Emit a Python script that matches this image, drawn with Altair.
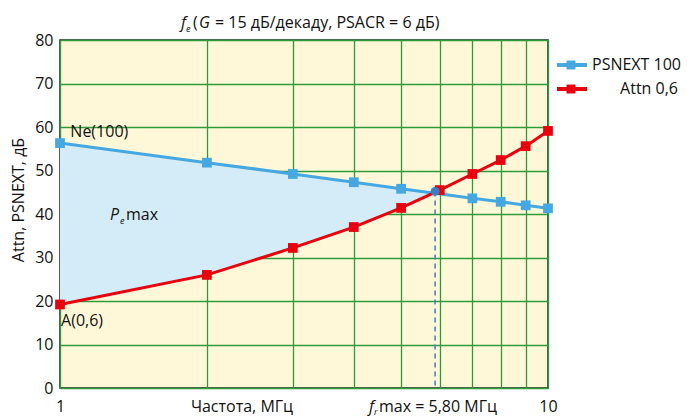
import altair as alt
import pandas as pd

FONT = "Open Sans"

# PSNEXT 100 series
psnext_f = [1, 2, 3, 4, 5, 7, 8, 9, 10]
psnext_v = [56.3, 51.8, 49.2, 47.3, 45.8, 43.6, 42.8, 42.0, 41.3]
# Attn 0,6 series
attn_f = [1, 2, 3, 4, 5, 6, 7, 8, 9, 10]
attn_v = [19.2, 26.0, 32.2, 37.0, 41.4, 45.5, 49.2, 52.4, 55.6, 59.1]
# shaded region (Pe max) between the curves up to the crossing
area_f = [1, 2, 3, 4, 5, 5.87]
area_hi = [56.3, 51.8, 49.2, 47.3, 45.8, 45.2]
area_lo = [19.2, 26.0, 32.2, 37.0, 41.4, 45.2]
# crossing point
cross_f = [5.87]
cross_v = [45.2]
x_ticks = [1, 2, 3, 4, 5, 6, 7, 8, 9, 10]
y_ticks = [0, 10, 20, 30, 40, 50, 60, 70, 80]

BLUE = "#45A8E0"
RED = "#E8000E"
GREEN = "#2E9B3A"
FILL = "#D4ECF8"
BG = "#FFF8D8"
DOT = "#3F7CC4"

ps = pd.DataFrame({"f": psnext_f, "v": psnext_v})
at = pd.DataFrame({"f": attn_f, "v": attn_v})
ar = pd.DataFrame({"f": area_f, "hi": area_hi, "lo": area_lo})
cr = pd.DataFrame({"f": cross_f, "v": cross_v, "z": [0]})

xs = alt.Scale(type="log", domain=[1, 10], nice=False)
ys = alt.Scale(domain=[0, 80], nice=False)

xax = alt.Axis(values=x_ticks, labelExpr="datum.value == 1 || datum.value == 10 ? datum.label : ''",
               grid=True, gridColor=GREEN, gridWidth=1.3, gridOpacity=1, ticks=False,
               domain=False, labelFont=FONT, labelFontSize=16, labelColor="#111",
               labelPadding=10, title=None, labelFlush=False)
yax = alt.Axis(values=y_ticks, grid=True, gridColor=GREEN, gridWidth=1.3, gridOpacity=1,
               ticks=False, domain=False, labelFont=FONT, labelFontSize=16, labelColor="#111",
               labelPadding=7, title=None)

X = alt.X("f:Q", scale=xs, axis=xax)
Y = alt.Y("v:Q", scale=ys, axis=yax)

area = alt.Chart(ar).mark_area(color=FILL, opacity=1).encode(
    x=alt.X("f:Q", scale=xs), y=alt.Y("hi:Q", scale=ys), y2="lo:Q")

base_grid = alt.Chart(ps).mark_point(opacity=0).encode(x=X, y=Y)

drop = alt.Chart(cr).mark_rule(color=DOT, strokeDash=[5, 4], strokeWidth=1.5).encode(
    x=alt.X("f:Q", scale=xs), y=alt.Y("v:Q", scale=ys), y2="z:Q")

ps_line = alt.Chart(ps).mark_line(color=BLUE, strokeWidth=3).encode(
    x=alt.X("f:Q", scale=xs), y=alt.Y("v:Q", scale=ys))
ps_pts = alt.Chart(ps).mark_square(color=BLUE, size=95, opacity=1).encode(
    x=alt.X("f:Q", scale=xs), y=alt.Y("v:Q", scale=ys))
at_line = alt.Chart(at).mark_line(color=RED, strokeWidth=3).encode(
    x=alt.X("f:Q", scale=xs), y=alt.Y("v:Q", scale=ys))
at_pts = alt.Chart(at).mark_square(color=RED, size=95, opacity=1).encode(
    x=alt.X("f:Q", scale=xs), y=alt.Y("v:Q", scale=ys))
dot = alt.Chart(cr).mark_circle(color=DOT, size=80, opacity=1).encode(
    x=alt.X("f:Q", scale=xs), y=alt.Y("v:Q", scale=ys))


def txt(s, x, y, size=16, style="normal", align="left", baseline="alphabetic", angle=0):
    kw = dict(text=s, font=FONT, fontSize=size, fontStyle=style, align=align,
              baseline=baseline, color="#111")
    if angle:
        kw["angle"] = angle
    return alt.Chart(pd.DataFrame({"a": [0]})).mark_text(**kw).encode(
        x=alt.value(x), y=alt.value(y))


def dtxt(s, f, v, size=16, style="normal", align="left", baseline="alphabetic"):
    return alt.Chart(pd.DataFrame({"f": [f], "v": [v]})).mark_text(
        text=s, font=FONT, fontSize=size, fontStyle=style, align=align,
        baseline=baseline, color="#111").encode(
        x=alt.X("f:Q", scale=xs), y=alt.Y("v:Q", scale=ys))


texts = [
    # title
    txt("f", 121, -12, style="italic"),
    txt("e", 126, -8, size=9, style="italic"),
    txt("(", 133, -12),
    txt("G", 139, -12, style="italic"),
    txt("= 15 дБ/декаду, PSACR = 6 дБ)", 155, -12),
    # y title
    txt("Attn, PSNEXT, дБ", -41, 160, align="center", baseline="middle", angle=270),
    # x titles
    txt("Частота, МГц", 182, 372, align="center"),
    txt("f", 309, 372, style="italic"),
    txt("r", 314, 375, size=9, style="italic"),
    txt("max = 5,80 МГц", 319, 372),
    # annotations
    dtxt("Ne(100)", 1.05, 57.6),
    dtxt("A(0,6)", 1.005, 14.2),
    txt("P", 50, 180, style="italic"),
    txt("e", 60, 184, size=9, style="italic"),
    txt("max", 66, 180),
]

# legend
leg = [
    alt.Chart(pd.DataFrame({"a": [0]})).mark_rule(color=BLUE, strokeWidth=4).encode(
        x=alt.value(497), x2=alt.value(527), y=alt.value(25)),
    alt.Chart(pd.DataFrame({"a": [0]})).mark_square(color=BLUE, size=80, opacity=1).encode(
        x=alt.value(511), y=alt.value(25)),
    alt.Chart(pd.DataFrame({"a": [0]})).mark_rule(color=RED, strokeWidth=4).encode(
        x=alt.value(497), x2=alt.value(527), y=alt.value(49)),
    alt.Chart(pd.DataFrame({"a": [0]})).mark_square(color=RED, size=80, opacity=1).encode(
        x=alt.value(511), y=alt.value(49)),
    txt("PSNEXT 100", 532, 25, baseline="middle"),
    txt("Attn 0,6", 618, 49, align="right", baseline="middle"),
]

chart = alt.layer(base_grid, area, drop, ps_line, at_line, ps_pts, at_pts, dot, *texts, *leg).properties(
    width=488, height=348,
    autosize=alt.AutoSizeParams(type="none"),
    padding={"left": 60, "top": 40, "right": 139, "bottom": 30},
    background="white",
).configure_view(fill=BG, stroke="#222", strokeWidth=1.5)

chart.save("out.html", embed_options={"renderer": "svg", "actions": False})
